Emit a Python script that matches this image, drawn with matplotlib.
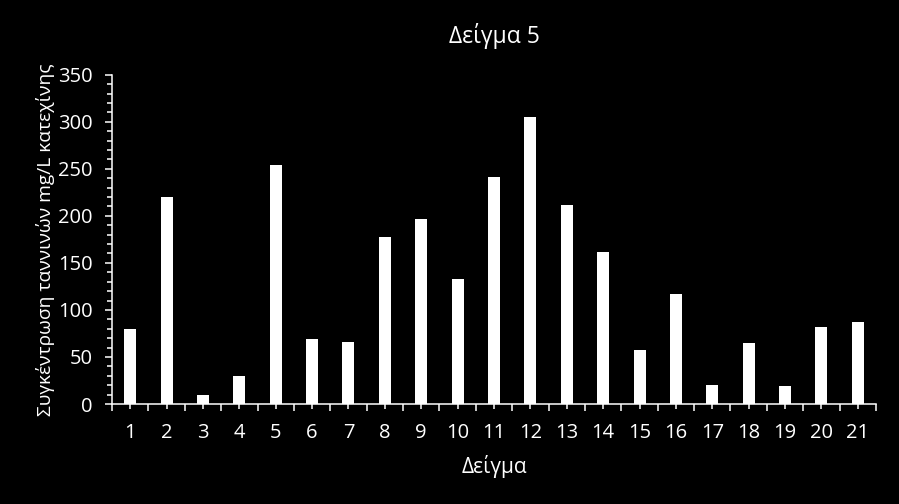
import matplotlib
matplotlib.use("Agg")
import matplotlib.pyplot as plt
from matplotlib.ticker import MultipleLocator, FixedLocator

plt.rcParams["font.family"] = ["Open Sans", "DejaVu Sans"]

samples = list(range(1, 22))
values = [80, 220, 10, 30, 254, 69, 66, 177, 197, 133,
          241, 305, 212, 162, 57, 117, 20, 65, 19, 82, 87]

fig = plt.figure(figsize=(8.99, 5.04), dpi=100, facecolor="black")
ax = fig.add_axes([112 / 899, 100 / 504, 764 / 899, 329.3 / 504])
ax.set_facecolor("black")

ax.bar(samples, values, width=0.33, color="white")

ax.set_xlim(0.5, 21.5)
ax.set_ylim(0, 350)

ax.xaxis.set_major_locator(FixedLocator(samples))
ax.xaxis.set_minor_locator(FixedLocator([s - 0.5 for s in samples] + [21.5]))
ax.yaxis.set_major_locator(MultipleLocator(50))
ax.yaxis.set_minor_locator(MultipleLocator(10))

for side in ["top", "right"]:
    ax.spines[side].set_visible(False)
for side in ["left", "bottom"]:
    ax.spines[side].set_color("white")
    ax.spines[side].set_linewidth(1.1)

ax.tick_params(axis="x", which="major", length=3.5, width=1.1, color="white",
               labelcolor="white", labelsize=14.5, pad=10)
ax.tick_params(axis="x", which="minor", length=5, width=1.1, color="white")
ax.tick_params(axis="y", which="major", length=5, width=1.1, color="white",
               labelcolor="white", labelsize=14.5, pad=9)
ax.tick_params(axis="y", which="minor", length=3.5, width=1.1, color="white")

ax.set_title("Δείγμα 5", color="white", fontsize=16.5, pad=23)
ax.set_xlabel("Δείγμα", color="white", fontsize=15, labelpad=9)
ax.set_ylabel("Συγκέντρωση ταννινών mg/L κατεχίνης", color="white",
              fontsize=13.8, labelpad=2)

fig.savefig("out.png", dpi=100, facecolor="black")
